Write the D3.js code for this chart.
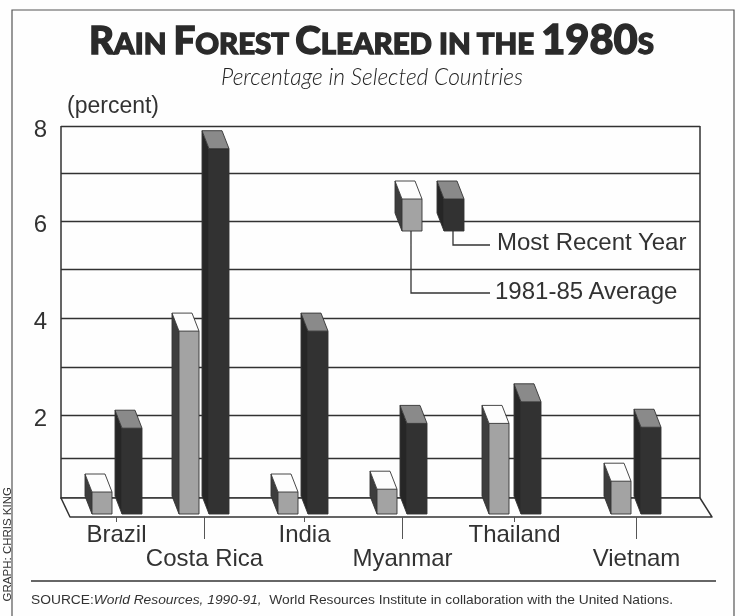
<!DOCTYPE html>
<html>
<head>
<meta charset="utf-8">
<script src="https://cdn.jsdelivr.net/npm/d3@7"></script>
<style>
  html, body { margin: 0; padding: 0; background: #fff; overflow: hidden; }
  svg { display: block; }
  text { fill: #333; font-family: "Liberation Sans", Arial, sans-serif; }
  .tick text { font-size: 24px; }
</style>
</head>
<body>
<svg id="chart" width="740" height="616"></svg>
<script>
// values (percent)
const countries = ['Brazil', 'Costa Rica', 'India', 'Myanmar', 'Thailand', 'Vietnam'];
const average8185 = [0.6, 4.1, 0.6, 0.67, 2.2, 0.87];
const mostRecent = [2.1, 7.9, 4.1, 2.2, 2.65, 2.12];
const gridValues = [0, 1, 2, 3, 4, 5, 6, 7, 8];
const yLabels = [2, 4, 6, 8];
const legendLabels = ['Most Recent Year', '1981-85 Average'];

const svg = d3.select('#chart');

// slight softening, the reference is a scan
svg.append('defs').append('filter').attr('id', 'soft')
  .append('feGaussianBlur').attr('stdDeviation', 0.45);
const root = svg.append('g').attr('filter', 'url(#soft)');
root.append('rect').attr('width', 740).attr('height', 616).attr('fill', '#fefefe');

// the grid in the original is not quite even, so the scale is piecewise
const y = d3.scaleLinear()
  .domain(gridValues)
  .range([498, 458, 415, 367, 318, 269, 221, 173, 126]);
const xTick = d3.scaleOrdinal().domain(countries).range([116, 204, 304, 402, 514, 636]);
const xAvg = d3.scaleOrdinal().domain(countries).range([85, 172, 271, 370, 482, 604]);
const xRecent = d3.scaleOrdinal().domain(countries).range([115, 202, 301, 400, 514, 634]);

const depthX = 7, depthY = 18, barW = 20, floorY = 514;
const lineCol = '#333';
const avgCols = { front: '#a3a3a3', side: '#3d3d3d', top: '#fdfdfd' };
const recentCols = { front: '#303030', side: '#282828', top: '#8a8a8a' };

// outer frame, runs off the bottom of the page
root.append('path')
  .attr('d', 'M12,620V10H734V620')
  .attr('fill', 'none').attr('stroke', '#555').attr('stroke-width', 1.2);

// title, small caps done by hand
const title = root.append('text')
  .attr('x', 89).attr('y', 54)
  .attr('textLength', 565).attr('lengthAdjust', 'spacingAndGlyphs')
  .style('font-family', 'Lato, sans-serif').style('font-weight', 900).style('fill', '#2a2a2a')
  .style('stroke', '#2a2a2a').style('stroke-width', 1.3);
[['R', 38], ['AIN ', 29], ['F', 38], ['OREST ', 29], ['C', 38], ['LEARED IN THE ', 29], ['1980', 41], ['S', 29]]
  .forEach(d => title.append('tspan').style('font-size', d[1] + 'px').text(d[0]));

root.append('text')
  .attr('x', 372).attr('y', 85).attr('text-anchor', 'middle')
  .style('font-family', 'Lato, sans-serif').style('font-style', 'italic').style('font-weight', 300)
  .style('font-size', '22.8px').style('fill', '#222').text('Percentage in Selected Countries');

root.append('text').attr('x', 67).attr('y', 113).style('font-size', '23px').text('(percent)');

// grid and left labels
const yAxis = d3.axisLeft(y)
  .tickValues(gridValues.slice(1))
  .tickSize(-639)
  .tickPadding(14)
  .tickFormat(d => yLabels.includes(d) ? d : '');
const yg = root.append('g').attr('transform', 'translate(61,0)').call(yAxis);
yg.select('.domain').remove();
yg.selectAll('.tick line').attr('stroke', lineCol).attr('stroke-width', 1.5);
yg.selectAll('.tick text').attr('dy', '0.44em').attr('fill', '#333');

// walls and floor
root.append('path')
  .attr('d', `M61,${y(8)}V${y(0)}H700V${y(8)}`)
  .attr('fill', 'none').attr('stroke', lineCol).attr('stroke-width', 1.5);
root.append('path')
  .attr('d', `M61,${y(0)}L70,517H712L700,${y(0)}Z`)
  .attr('fill', '#fefefe').attr('stroke', lineCol).attr('stroke-width', 1.5).attr('stroke-linejoin', 'round');

function drawBar(g, x, top, bottom, cols) {
  const fx = x + depthX;
  g.append('path') // side
    .attr('d', `M${x},${top}L${fx},${top + depthY}V${bottom}L${x},${bottom - depthY}Z`)
    .attr('fill', cols.side);
  g.append('path') // top
    .attr('d', `M${x},${top}H${x + barW}L${fx + barW},${top + depthY}H${fx}Z`)
    .attr('fill', cols.top);
  g.append('rect') // front
    .attr('x', fx).attr('y', top + depthY)
    .attr('width', barW).attr('height', bottom - top - depthY)
    .attr('fill', cols.front);
  g.append('path') // outline
    .attr('d', `M${x},${top}H${x + barW}L${fx + barW},${top + depthY}V${bottom}H${fx}L${x},${bottom - depthY}Z` +
      `M${x},${top}L${fx},${top + depthY}H${fx + barW}M${fx},${top + depthY}V${bottom}`)
    .attr('fill', 'none').attr('stroke', '#333').attr('stroke-width', 0.9).attr('stroke-linejoin', 'round');
}

const bars = root.append('g');
countries.forEach((c, i) => {
  drawBar(bars, xAvg(c), y(average8185[i]), floorY, avgCols);
  drawBar(bars, xRecent(c), y(mostRecent[i]), floorY, recentCols);
});

// country labels, staggered on two rows
const xAxis = d3.axisBottom(xTick).tickSize(0);
const xg = root.append('g').attr('transform', 'translate(0,517)').call(xAxis);
xg.select('.domain').remove();
xg.selectAll('.tick line')
  .attr('stroke', '#555').attr('stroke-width', 1)
  .attr('y2', (d, i) => i % 2 ? 22 : 5);
xg.selectAll('.tick text')
  .attr('fill', '#333')
  .attr('dy', 0)
  .attr('y', (d, i) => i % 2 ? 49 : 25);

// legend
const legend = root.append('g');
drawBar(legend, 395, 181, 231, avgCols);
drawBar(legend, 437, 181, 231, recentCols);
legend.append('path')
  .attr('d', 'M453,231V245H490M411,231V293H490')
  .attr('fill', 'none').attr('stroke', lineCol).attr('stroke-width', 1.3);
legend.append('text').attr('x', 497).attr('y', 250).style('font-size', '24px').text(legendLabels[0]);
legend.append('text').attr('x', 495).attr('y', 299).style('font-size', '24px').text(legendLabels[1]);

// source line
root.append('line').attr('x1', 31).attr('x2', 716).attr('y1', 581).attr('y2', 581)
  .attr('stroke', lineCol).attr('stroke-width', 1.3);
const source = root.append('text').attr('x', 31).attr('y', 604)
  .attr('textLength', 642).attr('lengthAdjust', 'spacingAndGlyphs')
  .style('font-size', '13.2px');
source.append('tspan').text('SOURCE:');
source.append('tspan').style('font-style', 'italic').text('World Resources, 1990-91,');
source.append('tspan').text('\u00a0 World Resources Institute in collaboration with the United Nations.');

// credit up the left edge
root.append('text')
  .attr('transform', 'translate(10.5,487) rotate(-90)')
  .attr('text-anchor', 'end')
  .style('font-size', '11.5px')
  .text('GRAPH: CHRIS KING');
</script>
</body>
</html>
